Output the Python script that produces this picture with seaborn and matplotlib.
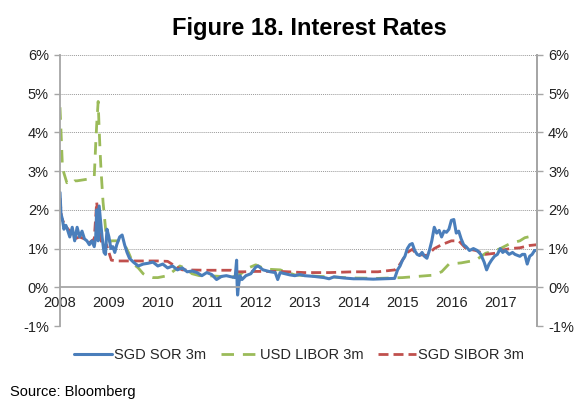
import matplotlib
matplotlib.use("Agg")
import matplotlib.pyplot as plt
import seaborn as sns
import pandas as pd
import numpy as np

# ---- data (decimal year, % rate) ----
sor_t = [2008.0, 2008.02, 2008.05, 2008.08, 2008.12, 2008.15, 2008.2, 2008.25, 2008.3, 2008.35, 2008.4,
         2008.45, 2008.5, 2008.55, 2008.6, 2008.65, 2008.7, 2008.73, 2008.75, 2008.78, 2008.8, 2008.83,
         2008.86, 2008.9, 2008.93, 2008.96, 2009.0, 2009.04, 2009.08, 2009.12, 2009.16, 2009.22, 2009.27,
         2009.32, 2009.37, 2009.42, 2009.5, 2009.6, 2009.7, 2009.8, 2009.9, 2010.0, 2010.1, 2010.2, 2010.3,
         2010.4, 2010.5, 2010.6, 2010.7, 2010.8, 2010.9, 2011.0, 2011.1, 2011.2, 2011.3, 2011.4, 2011.5,
         2011.58, 2011.61, 2011.62, 2011.63, 2011.65, 2011.68, 2011.72, 2011.8, 2011.9, 2012.0, 2012.05,
         2012.15, 2012.3, 2012.4, 2012.45, 2012.5, 2012.6, 2012.7, 2012.8, 2012.9, 2013.0, 2013.2, 2013.4,
         2013.5, 2013.6, 2013.8, 2014.0, 2014.2, 2014.4, 2014.6, 2014.84, 2014.9, 2014.95, 2015.0, 2015.05,
         2015.1, 2015.15, 2015.2, 2015.25, 2015.3, 2015.35, 2015.4, 2015.45, 2015.5, 2015.55, 2015.6,
         2015.65, 2015.7, 2015.75, 2015.8, 2015.85, 2015.9, 2015.95, 2016.0, 2016.05, 2016.1, 2016.15,
         2016.2, 2016.25, 2016.3, 2016.37, 2016.45, 2016.53, 2016.6, 2016.67, 2016.72, 2016.77, 2016.82,
         2016.88, 2016.94, 2017.0, 2017.05, 2017.1, 2017.18, 2017.25, 2017.3, 2017.4, 2017.45, 2017.5,
         2017.55, 2017.6, 2017.65, 2017.7, 2017.75]
sor_v = [2.45, 1.9, 1.75, 1.5, 1.6, 1.5, 1.3, 1.55, 1.2, 1.55, 1.3,
         1.45, 1.25, 1.2, 1.1, 1.2, 1.05, 1.3, 2.0, 1.2, 2.1, 1.7,
         1.3, 0.9, 0.85, 1.5, 1.3, 1.0, 1.05, 0.9, 1.1, 1.3, 1.35,
         1.1, 0.9, 0.75, 0.65, 0.55, 0.6, 0.62, 0.65, 0.55, 0.6, 0.5, 0.55,
         0.45, 0.5, 0.4, 0.42, 0.38, 0.3, 0.38, 0.33, 0.2, 0.28, 0.3, 0.27,
         0.25, 0.7, 0.1, -0.2, 0.05, 0.3, 0.2, 0.3, 0.35, 0.52, 0.55,
         0.45, 0.4, 0.38, 0.2, 0.38, 0.35, 0.32, 0.3, 0.33, 0.3, 0.28, 0.25,
         0.22, 0.27, 0.24, 0.22, 0.22, 0.21, 0.22, 0.23, 0.45, 0.55, 0.7, 0.8,
         1.0, 1.1, 1.13, 0.95, 0.85, 0.82, 0.9, 0.8, 0.75, 0.95, 1.2,
         1.55, 1.4, 1.47, 1.3, 1.45, 1.42, 1.5, 1.73, 1.75, 1.4, 1.45,
         1.25, 1.1, 1.05, 0.95, 1.0, 0.95, 0.85, 0.65, 0.45, 0.6, 0.7,
         0.8, 0.85, 1.0, 0.9, 0.95, 0.85, 0.9, 0.85, 0.8, 0.85, 0.85,
         0.6, 0.8, 0.85, 0.95, 0.95]

libor_t = [2008.0, 2008.02, 2008.05, 2008.08, 2008.14, 2008.2, 2008.25, 2008.3, 2008.35, 2008.5, 2008.6,
           2008.7, 2008.73, 2008.75, 2008.78, 2008.8, 2008.82, 2008.84, 2008.88, 2008.94, 2009.02, 2009.05,
           2009.1, 2009.2, 2009.3, 2009.4, 2009.5, 2009.6, 2009.7, 2009.8, 2009.9, 2010.0, 2010.2, 2010.35,
           2010.45, 2010.55, 2010.7, 2010.85, 2011.0, 2011.3, 2011.5, 2011.7, 2011.85, 2012.0, 2012.2,
           2012.5, 2012.8, 2013.0, 2013.5, 2014.0, 2014.5, 2015.0, 2015.3, 2015.6, 2015.8, 2015.95, 2016.2,
           2016.5, 2016.7, 2016.9, 2017.0, 2017.2, 2017.4, 2017.5, 2017.6, 2017.75]
libor_v = [4.65, 4.05, 3.1, 2.95, 2.7, 2.75, 2.7, 2.75, 2.75, 2.78, 2.8,
           2.85, 3.7, 4.2, 4.8, 4.1, 3.5, 3.0, 2.2, 1.4, 1.17, 1.2,
           1.2, 1.2, 1.15, 0.9, 0.6, 0.5, 0.35, 0.28, 0.25, 0.25, 0.3, 0.45,
           0.55, 0.5, 0.35, 0.3, 0.3, 0.28, 0.25, 0.35, 0.5, 0.58, 0.47,
           0.45, 0.32, 0.3, 0.27, 0.24, 0.23, 0.25, 0.28, 0.31, 0.4, 0.6, 0.63,
           0.7, 0.88, 0.95, 1.0, 1.13, 1.2, 1.28, 1.31, 1.33]

sibor_t = [2008.0, 2008.03, 2008.1, 2008.2, 2008.3, 2008.4, 2008.5, 2008.6, 2008.7, 2008.75, 2008.8,
           2008.85, 2008.9, 2008.95, 2009.0, 2009.05, 2009.2, 2009.5, 2010.0, 2010.2, 2010.35, 2010.5,
           2011.0, 2011.5, 2011.6, 2011.75, 2012.0, 2012.5, 2013.0, 2013.5, 2014.0, 2014.5, 2014.85,
           2014.95, 2015.1, 2015.2, 2015.3, 2015.5, 2015.65, 2015.8, 2016.0, 2016.15, 2016.3, 2016.5,
           2016.7, 2016.9, 2017.0, 2017.2, 2017.4, 2017.6, 2017.75]
sibor_v = [2.3, 1.8, 1.6, 1.45, 1.25, 1.3, 1.25, 1.15, 1.25, 2.2, 1.5,
           1.15, 1.0, 1.1, 0.9, 0.7, 0.68, 0.68, 0.68, 0.67, 0.55, 0.45,
           0.44, 0.44, 0.4, 0.4, 0.41, 0.41, 0.38, 0.38, 0.4, 0.4, 0.45,
           0.6, 0.9, 0.98, 0.85, 0.82, 1.0, 1.1, 1.2, 1.2, 1.0, 0.95,
           0.85, 0.88, 0.95, 1.0, 1.02, 1.08, 1.1]

names = ["SGD SOR 3m", "USD LIBOR 3m", "SGD SIBOR 3m"]
y_ticks = [-1, 0, 1, 2, 3, 4, 5, 6]
x_ticks = list(range(2008, 2018))

df = pd.concat([
    pd.DataFrame({"t": sor_t, "v": sor_v, "s": names[0]}),
    pd.DataFrame({"t": libor_t, "v": libor_v, "s": names[1]}),
    pd.DataFrame({"t": sibor_t, "v": sibor_v, "s": names[2]}),
])

sns.set_style("white")
plt.rcParams['font.family'] = ['Liberation Sans', 'DejaVu Sans']

fig = plt.figure(figsize=(5.75, 4.01), dpi=100)
ax = fig.add_axes([60/575, 1-326/401, 477/575, 271/401])

colors = {names[0]: "#4A7EBB", names[1]: "#9BBB59", names[2]: "#C0504D"}
styles = {names[0]: (None, 2.2), names[1]: ((0, (4.5, 3.2)), 2.0), names[2]: ((0, (3.6, 1.8)), 2.0)}

for n in [names[1], names[2], names[0]]:
    sub = df[df.s == n]
    ls, lw = styles[n]
    kw = dict(linestyle="-") if ls is None else dict(dashes=False, linestyle=ls)
    sns.lineplot(data=sub, x="t", y="v", ax=ax, color=colors[n], linewidth=lw,
                 estimator=None, sort=False, label=n, **kw)

ax.set_xlim(2008, 2017.75)
ax.set_ylim(-1, 6)
ax.set_yticks(y_ticks)
ax.set_yticklabels([f"{v}%" for v in y_ticks])
ax.set_xticks(x_ticks)
ax.set_xticklabels([str(v) for v in x_ticks])
ax.set_xlabel("")
ax.set_ylabel("")

gc = "#A6A6A6"
for y in y_ticks:
    if y != 0:
        ax.axhline(y, color="#9A9A9A", linestyle=(0, (1, 1)), linewidth=0.7, zorder=0)

ax.spines["top"].set_visible(False)
ax.spines["bottom"].set_position(("data", 0))
for s in ["bottom", "left", "right"]:
    ax.spines[s].set_color(gc)
    ax.spines[s].set_linewidth(1.3)

ax.tick_params(axis="x", direction="out", length=4, color=gc, width=1, labelsize=10.5,
               labelcolor="#222222", pad=2)
ax.tick_params(axis="y", direction="out", length=4, color=gc, width=1, labelsize=10.5,
               labelcolor="#222222", pad=4)

ax2 = ax.twinx()
ax2.set_ylim(-1, 6)
ax2.set_yticks(y_ticks)
ax2.set_yticklabels([f"{v}%" for v in y_ticks])
for s in ["top", "bottom", "left"]:
    ax2.spines[s].set_visible(False)
ax2.spines["right"].set_color(gc)
ax2.spines["right"].set_linewidth(1.3)
ax2.tick_params(axis="y", direction="out", length=4, color=gc, width=1, labelsize=10.5,
                labelcolor="#222222", pad=4)
ax2.grid(False)

ax.get_legend().remove()
h, l = ax.get_legend_handles_labels()
order = [l.index(n) for n in names]
fig.legend([h[i] for i in order], [l[i] for i in order], loc="center", bbox_to_anchor=(0.52, 1-355/401),
           ncol=3, frameon=False, fontsize=10.5, handlelength=2.6, columnspacing=1.0, handletextpad=0.1)

fig.text(309/575, 1-29/401, "Figure 18. Interest Rates", ha="center", va="center",
         fontsize=17, fontweight="bold", color="black")
fig.text(10/575, 1-392/401, "Source: Bloomberg", ha="left", va="center", fontsize=10.5, color="black")

fig.savefig("out.png", dpi=100)
